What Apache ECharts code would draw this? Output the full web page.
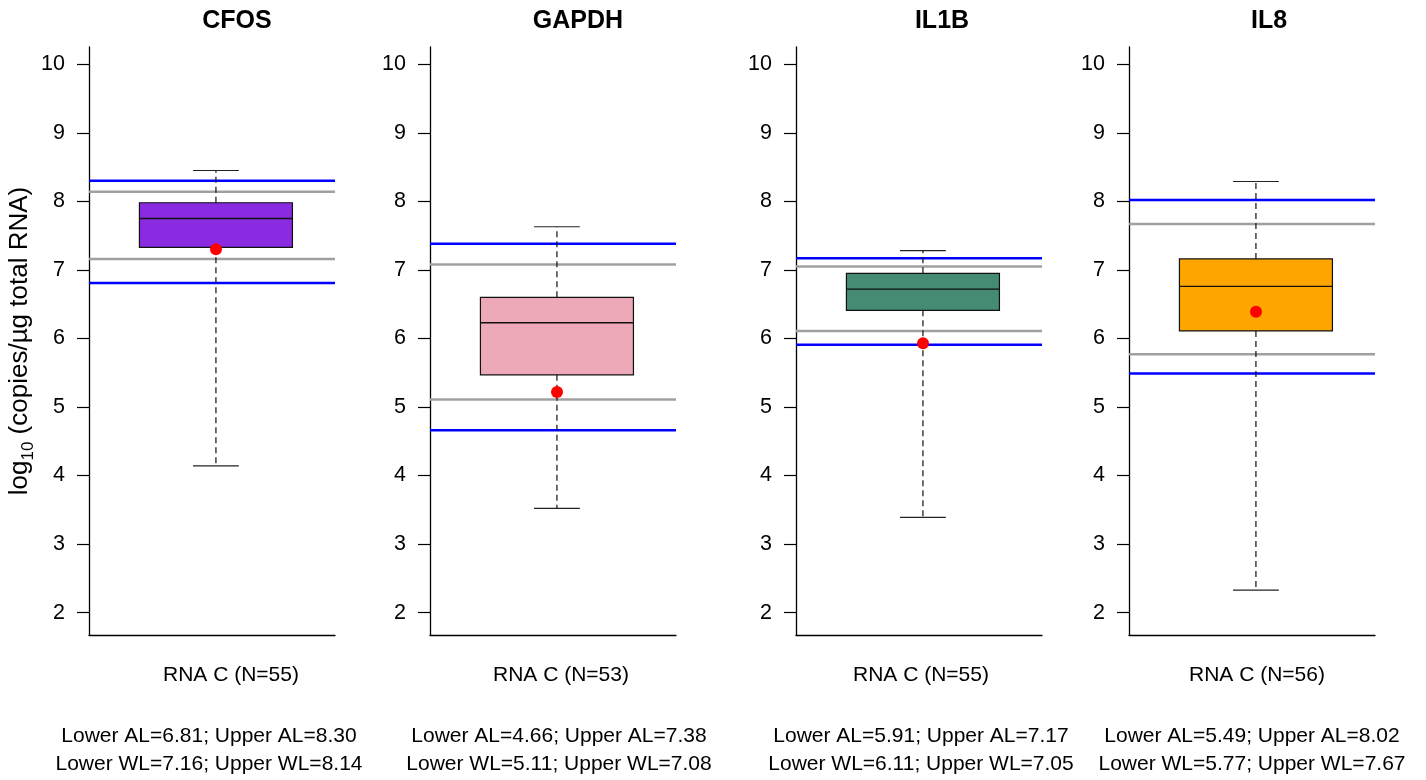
<!DOCTYPE html>
<html>
<head>
<meta charset="utf-8">
<script src="https://cdn.jsdelivr.net/npm/echarts@6/dist/echarts.min.js"></script>
<style>html,body{margin:0;padding:0;background:#fff}#chart{width:1426px;height:780px}</style>
</head>
<body>
<div id="chart"></div>
<script>
// ---- data ----
const genes = ['CFOS', 'GAPDH', 'IL1B', 'IL8'];
const groupLabels = ['RNA C (N=55)', 'RNA C (N=53)', 'RNA C (N=55)', 'RNA C (N=56)'];
const whiskerLow = [4.14, 3.52, 3.39, 2.33];
const q1 = [7.33, 5.47, 6.41, 6.11];
const median = [7.75, 6.23, 6.72, 6.76];
const q3 = [7.98, 6.60, 6.95, 7.16];
const whiskerHigh = [8.45, 7.63, 7.28, 8.29];
const means = [7.30, 5.22, 5.93, 6.39];
const lowerAL = [6.81, 4.66, 5.91, 5.49];
const upperAL = [8.30, 7.38, 7.17, 8.02];
const lowerWL = [7.16, 5.11, 6.11, 5.77];
const upperWL = [8.14, 7.08, 7.05, 7.67];
const yTicks = [2, 3, 4, 5, 6, 7, 8, 9, 10];
const boxColors = ['#8A2BE2', '#EEA9B8', '#458B74', '#FFA500'];

// ---- layout ----
const FONT = "'Liberation Sans', Arial, Helvetica, sans-serif";
const gridLeft = [89, 430, 796, 1129];
const gridWidth = 246;
const gridTop = 47;
const gridHeight = 588;
const yMin = 1.674, yMax = 10.252;
const titleX = [237, 578, 942, 1269];
const groupX = [231, 561, 921, 1257];
const statX = [209, 559, 921, 1252];
const BOX_FRAC = 0.622, CAP_FRAC = 0.186, SHIFT_FRAC = 0.016;

const chart = echarts.init(document.getElementById('chart'), null, {renderer: 'canvas'});

const grids = [], xAxes = [], yAxes = [], series = [], graphics = [];

genes.forEach((g, i) => {
  grids.push({left: gridLeft[i], top: gridTop, width: gridWidth, height: gridHeight});
  xAxes.push({
    type: 'category', gridIndex: i, data: [groupLabels[i]],
    axisLine: {show: true, lineStyle: {color: '#000', width: 1.3}},
    axisTick: {show: false}, axisLabel: {show: false}, splitLine: {show: false}
  });
  const ya = {
    type: 'value', gridIndex: i, min: yMin, max: yMax,
    axisLine: {show: true, lineStyle: {color: '#000', width: 1.3}},
    axisTick: {show: true, length: 12, customValues: yTicks, lineStyle: {color: '#000', width: 1.2}},
    axisLabel: {customValues: yTicks, fontSize: 21.5, color: '#000', margin: 24, fontFamily: FONT},
    splitLine: {show: false}
  };
  if (i === 0) {
    ya.name = '{m|log}{s|10}{m| (copies/µg total RNA)}';
    ya.nameLocation = 'middle';
    ya.nameRotate = 90;
    ya.nameGap = 52;
    ya.nameTextStyle = {
      fontFamily: FONT, color: '#000',
      rich: {
        m: {fontSize: 26, fontFamily: FONT, color: '#000', lineHeight: 34},
        s: {fontSize: 17, fontFamily: FONT, color: '#000', lineHeight: 15, verticalAlign: 'bottom'}
      }
    };
  }
  yAxes.push(ya);

  // acceptance / warning limit lines
  const limitSeries = (vals, color, z) => ({
    type: 'custom', xAxisIndex: i, yAxisIndex: i, z: z, silent: true,
    data: vals.map(v => [0, v]),
    encode: {x: 0, y: 1},
    renderItem: (params, api) => {
      const cs = params.coordSys;
      const y = api.coord([0, api.value(1)])[1];
      return {type: 'line', shape: {x1: cs.x, y1: y, x2: cs.x + cs.width, y2: y},
              style: {stroke: color, lineWidth: 2.5}};
    }
  });
  series.push(limitSeries([lowerWL[i], upperWL[i]], '#A0A0A0', 2));
  series.push(limitSeries([lowerAL[i], upperAL[i]], '#0000FF', 3));

  // box plot
  series.push({
    type: 'custom', xAxisIndex: i, yAxisIndex: i, z: 4, silent: true,
    data: [[0, whiskerLow[i], q1[i], median[i], q3[i], whiskerHigh[i]]],
    encode: {x: 0, y: [1, 2, 3, 4, 5]},
    renderItem: (params, api) => {
      const band = api.size([1, 0])[0];
      const cx = api.coord([api.value(0), api.value(3)])[0] + band * SHIFT_FRAC;
      const yLo = api.coord([0, api.value(1)])[1];
      const yQ1 = api.coord([0, api.value(2)])[1];
      const yMed = api.coord([0, api.value(3)])[1];
      const yQ3 = api.coord([0, api.value(4)])[1];
      const yHi = api.coord([0, api.value(5)])[1];
      const hw = band * BOX_FRAC / 2, cw = band * CAP_FRAC / 2;
      const dash = {stroke: '#111', lineWidth: 1.2, lineDash: [6, 4]};
      const solid = {stroke: '#222', lineWidth: 1.2};
      return {type: 'group', children: [
        {type: 'line', shape: {x1: cx, y1: yQ3, x2: cx, y2: yHi}, style: dash},
        {type: 'line', shape: {x1: cx, y1: yQ1, x2: cx, y2: yLo}, style: dash},
        {type: 'line', shape: {x1: cx - cw, y1: yHi, x2: cx + cw, y2: yHi}, style: solid},
        {type: 'line', shape: {x1: cx - cw, y1: yLo, x2: cx + cw, y2: yLo}, style: solid},
        {type: 'rect', shape: {x: cx - hw, y: yQ3, width: 2 * hw, height: yQ1 - yQ3},
         style: {fill: boxColors[i], stroke: '#111', lineWidth: 1.2}},
        {type: 'line', shape: {x1: cx - hw, y1: yMed, x2: cx + hw, y2: yMed},
         style: {stroke: '#111', lineWidth: 1.4}}
      ]};
    }
  });

  // mean point
  series.push({
    type: 'scatter', xAxisIndex: i, yAxisIndex: i, z: 5, silent: true,
    data: [[0, means[i]]], symbol: 'circle', symbolSize: 12, symbolOffset: [4, 0],
    itemStyle: {color: '#FF0000', opacity: 1}
  });

  // texts
  graphics.push({type: 'text', x: titleX[i], y: 21, style: {
    text: g, fontSize: 25, fontWeight: 'bold', fontFamily: FONT, fill: '#000',
    textAlign: 'center', textVerticalAlign: 'middle'}});
  graphics.push({type: 'text', x: groupX[i], y: 675, style: {
    text: groupLabels[i], fontSize: 21, fontFamily: FONT, fill: '#000',
    textAlign: 'center', textVerticalAlign: 'middle'}});
  graphics.push({type: 'text', x: statX[i], y: 736, style: {
    text: 'Lower AL=' + lowerAL[i].toFixed(2) + '; Upper AL=' + upperAL[i].toFixed(2),
    fontSize: 21, fontFamily: FONT, fill: '#000', textAlign: 'center', textVerticalAlign: 'middle'}});
  graphics.push({type: 'text', x: statX[i], y: 764, style: {
    text: 'Lower WL=' + lowerWL[i].toFixed(2) + '; Upper WL=' + upperWL[i].toFixed(2),
    fontSize: 21, fontFamily: FONT, fill: '#000', textAlign: 'center', textVerticalAlign: 'middle'}});
});

chart.setOption({
  backgroundColor: '#fff',
  animation: false,
  grid: grids,
  xAxis: xAxes,
  yAxis: yAxes,
  series: series,
  graphic: graphics
});
</script>
</body>
</html>
